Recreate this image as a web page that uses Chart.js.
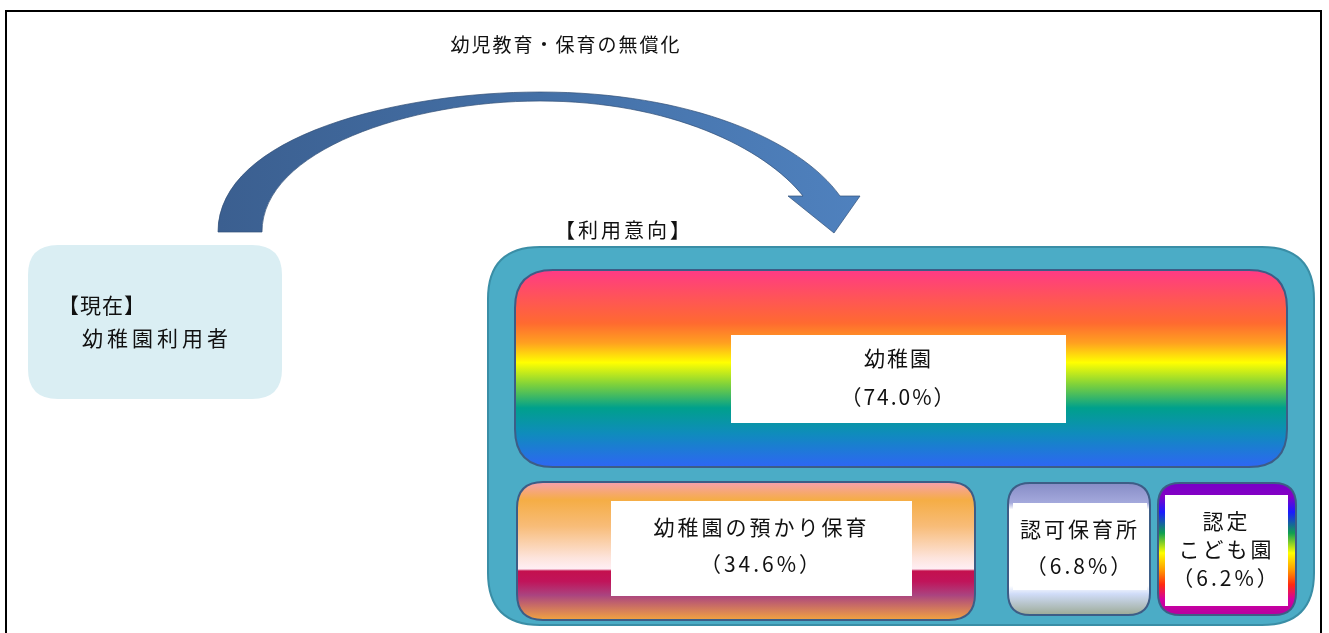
<!DOCTYPE html>
<html>
<head>
<meta charset="utf-8">
<script src="https://cdn.jsdelivr.net/npm/chart.js@4/dist/chart.umd.min.js"></script>
<style>
  html, body { margin: 0; padding: 0; background: #fff; }
  #wrap { width: 1329px; height: 633px; }
</style>
</head>
<body>
<div id="wrap"><canvas id="diagram" width="1329" height="633"></canvas></div>
<script>
// data
const categories = ['幼稚園', '幼稚園の預かり保育', '認可保育所', '認定こども園'];
const shares = [74.0, 34.6, 6.8, 6.2];
const boxLines = [['幼稚園'], ['幼稚園の預かり保育'], ['認可保育所'], ['認定', 'こども園']];
const titleText = '幼児教育・保育の無償化';
const currentLines = ['【現在】', '幼稚園利用者'];
const intentText = '【利用意向】';

const FONT = "'Noto Sans CJK JP', 'Noto Sans CJK SC', sans-serif";

// layout of the boxes (pixels), kept apart from the data
const boxes = [
  { x: 515, y: 270, w: 772, h: 197, r: 38, label: { x: 731, y: 335, w: 335, h: 88 }, lineY: [358, 397] },
  { x: 517, y: 482, w: 458, h: 138, r: 26, label: { x: 611, y: 501, w: 301, h: 95 }, lineY: [527, 564] },
  { x: 1008, y: 483, w: 142, h: 132, r: 22, label: { x: 1013, y: 503, w: 134, h: 87 }, lineY: [529, 566] },
  { x: 1158, y: 483, w: 138, h: 132, r: 22, label: { x: 1165, y: 495, w: 123, h: 111 }, lineY: [521, 549, 578] }
];

const fills = [
  [[0, '#ff3a86'], [0.14, '#ff5458'], [0.27, '#ff6a30'], [0.37, '#ffa020'], [0.47, '#ffff00'],
   [0.58, '#80d23a'], [0.70, '#00a08c'], [0.83, '#0f8cbc'], [1, '#2e66f4']],
  [[0, '#f7a0ae'], [0.13, '#f5ad45'], [0.32, '#f8bc78'], [0.55, '#fde4dc'], [0.63, '#ffeef4'],
   [0.645, '#c4104e'], [0.72, '#c0145a'], [0.82, '#aa4480'], [1, '#f2a440']],
  [[0, '#868cc6'], [0.15, '#a4a9dc'], [0.2, '#ffffff'], [0.78, '#ffffff'], [0.84, '#d0dcf8'], [1, '#9caa96']],
  [[0, '#7800c8'], [0.1, '#8400c4'], [0.22, '#1a1aff'], [0.38, '#10a050'], [0.53, '#ffff00'],
   [0.66, '#ff9a00'], [0.77, '#ff2a10'], [0.88, '#d400a0'], [1, '#b400a0']]
];

function roundRect(ctx, x, y, w, h, r) {
  ctx.beginPath();
  ctx.moveTo(x + r, y);
  ctx.lineTo(x + w - r, y);
  ctx.quadraticCurveTo(x + w, y, x + w, y + r);
  ctx.lineTo(x + w, y + h - r);
  ctx.quadraticCurveTo(x + w, y + h, x + w - r, y + h);
  ctx.lineTo(x + r, y + h);
  ctx.quadraticCurveTo(x, y + h, x, y + h - r);
  ctx.lineTo(x, y + r);
  ctx.quadraticCurveTo(x, y, x + r, y);
  ctx.closePath();
}

function vGrad(ctx, y0, y1, stops) {
  const g = ctx.createLinearGradient(0, y0, 0, y1);
  stops.forEach(s => g.addColorStop(s[0], s[1]));
  return g;
}

function text(ctx, str, x, y, size, align, spacing) {
  ctx.font = size + 'px ' + FONT;
  ctx.letterSpacing = (spacing || 0) + 'px';
  ctx.textAlign = align || 'center';
  ctx.textBaseline = 'middle';
  ctx.fillStyle = '#111';
  ctx.fillText(str, x, y);
}

const diagramPlugin = {
  id: 'diagram',
  beforeDraw(chart) {
    const ctx = chart.ctx;
    ctx.save();
    ctx.fillStyle = '#fff';
    ctx.fillRect(0, 0, chart.width, chart.height);

    // frame
    ctx.strokeStyle = '#000';
    ctx.lineWidth = 2;
    ctx.beginPath();
    ctx.moveTo(6, 633);
    ctx.lineTo(6, 11);
    ctx.lineTo(1321, 11);
    ctx.lineTo(1321, 633);
    ctx.stroke();

    text(ctx, titleText, 566, 45, 19, 'center', 2);

    // curved arrow
    const ag = ctx.createLinearGradient(218, 0, 860, 0);
    ag.addColorStop(0, '#3b5f90');
    ag.addColorStop(0.5, '#4470a6');
    ag.addColorStop(1, '#4f81be');
    ctx.beginPath();
    ctx.moveTo(218, 232);
    ctx.bezierCurveTo(218, 135, 400, 92, 540, 92);
    ctx.bezierCurveTo(690, 92, 800, 140, 840, 196);
    ctx.lineTo(860, 196);
    ctx.lineTo(834, 233);
    ctx.lineTo(788, 196);
    ctx.lineTo(803, 196);
    ctx.bezierCurveTo(765, 148, 670, 101, 540, 101);
    ctx.bezierCurveTo(410, 101, 262, 150, 262, 232);
    ctx.closePath();
    ctx.fillStyle = ag;
    ctx.fill();
    ctx.strokeStyle = 'rgba(50,80,120,0.7)';
    ctx.lineWidth = 1;
    ctx.stroke();

    // current users box
    roundRect(ctx, 28, 245, 254, 154, 30);
    ctx.fillStyle = '#daeef3';
    ctx.fill();
    text(ctx, currentLines[0], 58, 305, 21, 'left', 1);
    text(ctx, currentLines[1], 82, 338, 21, 'left', 4);

    text(ctx, intentText, 624, 230, 20, 'center', 3);

    // container
    roundRect(ctx, 488, 247, 826, 378, 52);
    ctx.fillStyle = '#4bacc6';
    ctx.fill();
    ctx.strokeStyle = '#3a8ea6';
    ctx.lineWidth = 2;
    ctx.stroke();

    boxes.forEach((b, i) => {
      roundRect(ctx, b.x, b.y, b.w, b.h, b.r);
      ctx.fillStyle = vGrad(ctx, b.y, b.y + b.h, fills[i]);
      ctx.fill();
      ctx.strokeStyle = '#3d5d86';
      ctx.lineWidth = 2;
      ctx.stroke();
      ctx.fillStyle = '#fff';
      ctx.fillRect(b.label.x, b.label.y, b.label.w, b.label.h);
      const cx = b.label.x + b.label.w / 2;
      const lines = boxLines[i].concat(['（' + shares[i].toFixed(1) + '%）']);
      lines.forEach((ln, j) => text(ctx, ln, cx, b.lineY[j], 21, 'center', i === 0 ? 2 : 3));
    });
    ctx.restore();
  }
};

new Chart(document.getElementById('diagram'), {
  type: 'bar',
  data: {
    labels: categories,
    datasets: [{ label: '利用意向', data: shares, backgroundColor: 'rgba(0,0,0,0)', borderWidth: 0 }]
  },
  options: {
    responsive: false,
    animation: false,
    events: [],
    layout: { padding: 0 },
    plugins: { legend: { display: false }, tooltip: { enabled: false }, title: { display: false } },
    scales: { x: { display: false }, y: { display: false, min: 0, max: 100 } }
  },
  plugins: [diagramPlugin]
});
</script>
</body>
</html>
